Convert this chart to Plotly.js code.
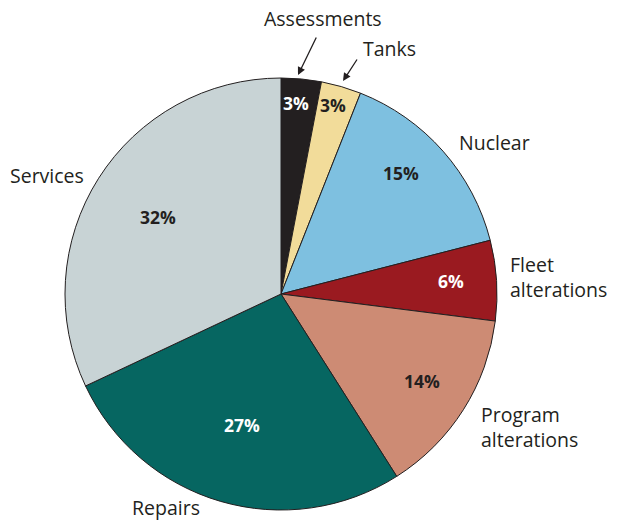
<!DOCTYPE html>
<html>
<head>
<meta charset="utf-8">
<script src="https://cdn.plot.ly/plotly-3.0.1.min.js"></script>
<style>html,body{margin:0;padding:0;background:#fff}#chart{width:618px;height:524px}</style>
</head>
<body>
<div id="chart"></div>
<script>
const categories = ["Assessments", "Tanks", "Nuclear", "Fleet alterations", "Program alterations", "Repairs", "Services"];
const shares = [3, 3, 15, 6, 14, 27, 32];
const sliceColors = ["#231f20", "#f2dc9a", "#7ec0e0", "#9a1a20", "#cd8b74", "#066661", "#c8d3d5"];
const textColors = ["#ffffff", "#231f20", "#231f20", "#ffffff", "#231f20", "#ffffff", "#231f20"];

const W = 618, H = 524;
const px = (x) => x / W;
const py = (y) => 1 - y / H;
const FONT = "Open Sans, Noto Sans, sans-serif";
const labelFont = {family: FONT, size: 19.5, color: "#231f20"};

// layout-only positions (pixels) for the percentage labels inside slices
const pctPos = [[296, 103], [333, 105], [401, 173], [451, 281], [422, 381], [242, 425], [158, 217]];

const trace = {
  type: "pie",
  labels: categories,
  values: shares,
  sort: false,
  direction: "clockwise",
  rotation: 0,
  marker: {colors: sliceColors, line: {color: "#231f20", width: 1}},
  textinfo: "none",
  hoverinfo: "none",
  showlegend: false,
  domain: {x: [px(65), px(497)], y: [py(510), py(78)]}
};

const annotations = [
  {x: px(323), y: py(18), text: "Assessments", xanchor: "center", yanchor: "middle"},
  {x: px(389), y: py(48), text: "Tanks", xanchor: "center", yanchor: "middle"},
  {x: px(494), y: py(142), text: "Nuclear", xanchor: "center", yanchor: "middle"},
  {x: px(508), y: py(277), text: "Fleet<br>alterations", xanchor: "left", yanchor: "middle", align: "left"},
  {x: px(479), y: py(427), text: "Program<br>alterations", xanchor: "left", yanchor: "middle", align: "left"},
  {x: px(166), y: py(523), text: "Repairs", xanchor: "center", yanchor: "bottom"},
  {x: px(47), y: py(175), text: "Services", xanchor: "center", yanchor: "middle"}
].map(a => Object.assign({xref: "paper", yref: "paper", showarrow: false, font: labelFont}, a));

shares.forEach((v, i) => {
  annotations.push({
    xref: "paper", yref: "paper", showarrow: false,
    x: px(pctPos[i][0]), y: py(pctPos[i][1]),
    xanchor: "center", yanchor: "middle",
    text: "<b>" + v + "%</b>",
    font: {family: FONT, size: 17.5, color: textColors[i]}
  });
});

annotations.push(
  {xref: "paper", yref: "paper", x: px(298), y: py(75), text: "", showarrow: true, ax: 19, ay: -39, axref: "pixel", ayref: "pixel", arrowhead: 2, arrowsize: 1.2, arrowwidth: 1.3, arrowcolor: "#231f20", standoff: 0},
  {xref: "paper", yref: "paper", x: px(343), y: py(81), text: "", showarrow: true, ax: 15, ay: -23, axref: "pixel", ayref: "pixel", arrowhead: 2, arrowsize: 1.2, arrowwidth: 1.3, arrowcolor: "#231f20", standoff: 0}
);

const layout = {
  width: W, height: H,
  margin: {l: 0, r: 0, t: 0, b: 0},
  paper_bgcolor: "#ffffff",
  plot_bgcolor: "#ffffff",
  annotations: annotations
};

Plotly.newPlot("chart", [trace], layout, {displayModeBar: false, staticPlot: true});
</script>
</body>
</html>
